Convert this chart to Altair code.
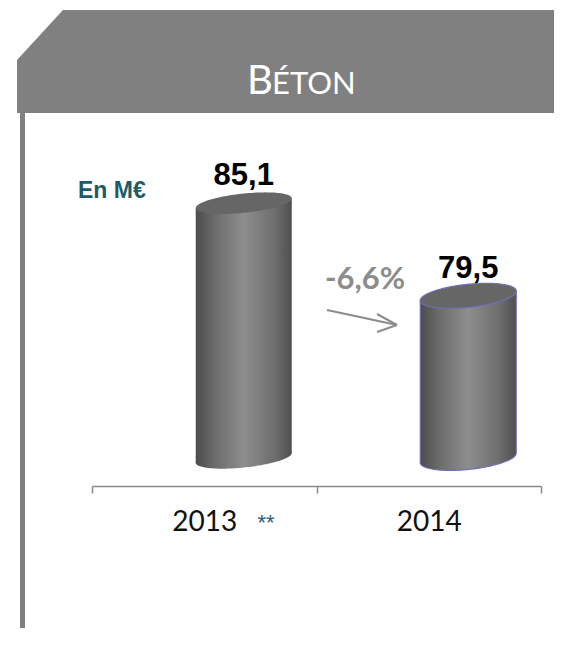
import math
import altair as alt
import pandas as pd

# ---- data ----
years = ["2013", "2014"]
values = [85.1, 79.5]
value_labels = ["85,1", "79,5"]
baseline_value = 69.7
y_domain = [68, 96.9]

title_first = "B"
title_rest = "ÉTON"
unit_label = "En M€"
change_label = "-6,6%"
footnote_mark = "**"

df = pd.DataFrame({"year": years, "value": values, "label": value_labels})
one = alt.Data(values=[{"k": 1}])

GREY = "#808080"
ARROW_GREY = "#8c8c8c"
BAR_W = 96            # cylinder width in px
BAR_SHIFT = 39.5      # cylinder offset from band centre in px
SYM = BAR_W * BAR_W   # symbol size -> unit = BAR_W / 2 px
TILT = math.radians(6)
ELL_B = [0.20, 0.24]  # ellipse minor semi-axis (units of half width)
OV = 0.03             # small overlap to hide seams


# ---- cylinder geometry (shapes in symbol units) ----
def ellipse_geom(b):
    a = math.sqrt((1 - (b * math.sin(TILT)) ** 2) / math.cos(TILT) ** 2)
    c, s = math.cos(TILT), math.sin(TILT)
    tr = math.atan2(b * s, a * c)

    def pt(t):
        return (a * math.cos(t) * c + b * math.sin(t) * s,
                -a * math.cos(t) * s + b * math.sin(t) * c)

    m = -pt(tr)[1]
    return pt, tr, m


def fmt(pts):
    return " ".join(("M" if i == 0 else "L") + f" {x:.4f} {y:.4f}" for i, (x, y) in enumerate(pts))


full_paths, half_paths, arc_paths, ms = [], [], [], []
for b in ELL_B:
    pt, tr, m = ellipse_geom(b)
    n = 120
    full = [pt(tr + 2 * math.pi * i / n) for i in range(n)]
    lower = [pt(tr + math.pi * i / 80) for i in range(81)]
    full_paths.append(fmt(full) + " Z")
    half_paths.append(fmt(lower + [(lower[-1][0], lower[-1][1] - OV), (lower[0][0], lower[0][1] - OV)]) + " Z")
    arc_paths.append(fmt(lower))
    ms.append(m)
M = sum(ms) / len(ms)
M_PX = M * BAR_W / 2

mask_tl = fmt([(-1.1, -0.05), (0, -0.05), (0, 0), (-1.1, 1.1 * M)]) + " Z"
fill_tr = fmt([(0, 0), (1, -M), (1, OV), (0, OV)]) + " Z"
mask_br = fmt([(0, 0), (1.1, -1.1 * M), (1.1, 0.05), (0, 0.05)]) + " Z"
fill_bl = fmt([(-1, -OV), (0, -OV), (0, 0), (-1, M)]) + " Z"

c_stops = [(0, "#4c4c4c"), (0.2, "#6c6c6c"), (0.5, "#8d8d8d"), (0.82, "#6e6e6e"), (1, "#4f4f4f")]


def grad(stops):
    return alt.Gradient(gradient="linear", x1=0, x2=1, y1=0, y2=0,
                        stops=[alt.GradientStop(color=c, offset=o) for o, c in stops])


body_grad = grad(c_stops)
left_grad = grad([(0, "#4c4c4c"), (0.4, "#6c6c6c"), (1, "#8d8d8d")])
right_grad = grad([(0, "#8d8d8d"), (0.64, "#6e6e6e"), (1, "#4f4f4f")])

x_enc = alt.X(
    "year:N",
    sort=years,
    scale=alt.Scale(paddingInner=0, paddingOuter=0),
    axis=alt.Axis(
        title=None,
        labelAngle=0,
        tickBand="extent",
        domainColor="#8a8a8a",
        domainWidth=1.5,
        tickColor="#8a8a8a",
        tickWidth=1.5,
        tickSize=7,
        labelFont="Lato",
        labelFontSize=28,
        labelColor="#111111",
        labelBaseline="alphabetic",
        labelPadding=37,
    ),
)
y_scale = alt.Scale(domain=y_domain, nice=False, zero=False)
y_enc = alt.Y("value:Q", scale=y_scale, axis=None)
y_base = alt.YDatum(baseline_value, scale=y_scale, axis=None)
edge_enc = alt.Stroke("year:N", scale=alt.Scale(domain=years, range=["transparent", "#6f6fb5"]), legend=None)


def shape_enc(paths):
    return alt.Shape("year:N", scale=alt.Scale(domain=years, range=paths), legend=None)


base = alt.Chart(df)


def patch(path, color, at_top):
    return base.mark_point(
        shape=path, size=SYM, xOffset=BAR_SHIFT, filled=True, color=color,
        opacity=1, strokeWidth=0,
    ).encode(x=x_enc, y=y_enc if at_top else y_base)


body = base.mark_bar(width=BAR_W, xOffset=BAR_SHIFT, color=body_grad).encode(
    x=x_enc, y=y_enc, y2=alt.Y2Datum(baseline_value)
)
p_tl = patch(mask_tl, "#ffffff", True)
p_br = patch(mask_br, "#ffffff", False)
p_tr = patch(fill_tr, right_grad, True)
p_bl = patch(fill_bl, left_grad, False)

bottom_half = base.mark_point(
    size=SYM, xOffset=BAR_SHIFT, filled=True, color=body_grad, opacity=1, strokeWidth=0,
).encode(x=x_enc, y=y_base, shape=shape_enc(half_paths))

side_left = base.mark_rule(
    xOffset=BAR_SHIFT - BAR_W / 2, yOffset=M_PX, y2Offset=M_PX, strokeWidth=1.2
).encode(x=x_enc, y=y_enc, y2=alt.Y2Datum(baseline_value), stroke=edge_enc)
side_right = base.mark_rule(
    xOffset=BAR_SHIFT + BAR_W / 2, yOffset=-M_PX, y2Offset=-M_PX, strokeWidth=1.2
).encode(x=x_enc, y=y_enc, y2=alt.Y2Datum(baseline_value), stroke=edge_enc)

bottom_arc = base.mark_point(
    size=SYM, xOffset=BAR_SHIFT, filled=False, opacity=1, strokeWidth=1.2,
).encode(x=x_enc, y=y_base, shape=shape_enc(arc_paths), stroke=edge_enc)

top = base.mark_point(
    size=SYM, xOffset=BAR_SHIFT, filled=True, color="#666666", opacity=1, strokeWidth=1.2,
).encode(x=x_enc, y=y_enc, shape=shape_enc(full_paths), stroke=edge_enc)

labels = base.mark_text(
    xOffset=BAR_SHIFT, dy=-18, baseline="alphabetic", align="center",
    font="Liberation Sans", fontSize=31, fontWeight="bold", color="#000000",
).encode(x=x_enc, y=y_enc, text="label:N")

# ---- decorations ----
banner_path = "M -1 -0.00559 L -0.82868 -0.19181 L 1 -0.19181 L 1 0.19181 L -1 0.19181 Z"
banner = alt.Chart(one).mark_point(
    shape=banner_path, size=537 * 537, filled=True, color=GREY, opacity=1, strokeWidth=0
).encode(x=alt.value(193.5), y=alt.value(53.5))

left_bar = alt.Chart(one).mark_rect(color=GREY).encode(
    x=alt.value(-72), x2=alt.value(-67), y=alt.value(104), y2=alt.value(640)
)

title_b = alt.Chart(one).mark_text(
    text=title_first, align="left", baseline="alphabetic", font="Lato",
    fontSize=40, color="#ffffff",
).encode(x=alt.value(155), y=alt.value(86))
title_r = alt.Chart(one).mark_text(
    text=title_rest, align="left", baseline="alphabetic", font="Lato",
    fontSize=31, color="#ffffff",
).encode(x=alt.value(180), y=alt.value(86))

unit = alt.Chart(one).mark_text(
    text=unit_label, align="left", baseline="alphabetic", font="Liberation Sans",
    fontSize=23, fontWeight="bold", color="#1d5b68",
).encode(x=alt.value(-14), y=alt.value(190))

change = alt.Chart(one).mark_text(
    text=change_label, align="left", baseline="alphabetic", font="Lato",
    fontSize=31, fontWeight="bold", color=ARROW_GREY,
).encode(x=alt.value(233), y=alt.value(281))

arrow_shaft = alt.Chart(one).mark_rule(color=ARROW_GREY, strokeWidth=2).encode(
    x=alt.value(235), y=alt.value(302), x2=alt.value(305), y2=alt.value(317)
)
arrow_up = alt.Chart(one).mark_rule(color=ARROW_GREY, strokeWidth=2).encode(
    x=alt.value(285), y=alt.value(306), x2=alt.value(305), y2=alt.value(317)
)
arrow_lo = alt.Chart(one).mark_rule(color=ARROW_GREY, strokeWidth=2).encode(
    x=alt.value(285), y=alt.value(324), x2=alt.value(305), y2=alt.value(317)
)

foot = alt.Chart(one).mark_text(
    text=footnote_mark, align="center", baseline="alphabetic", font="Liberation Sans",
    fontSize=22, color="#2b5a80",
).encode(x=alt.value(174), y=alt.value(522))

chart = alt.layer(
    banner, left_bar, title_b, title_r, unit,
    body, p_tl, p_br, p_tr, p_bl, bottom_half, side_left, side_right, bottom_arc, top, labels,
    change, arrow_shaft, arrow_up, arrow_lo, foot,
).resolve_scale(
    shape="independent"
).properties(
    width=449,
    height=478,
    padding={"left": 84, "right": 13, "top": 0, "bottom": 142},
    autosize=alt.AutoSizeParams(type="none"),
    background="#ffffff",
).configure_view(strokeWidth=0)

chart.save("out.html", embed_options={"renderer": "svg", "actions": False})
